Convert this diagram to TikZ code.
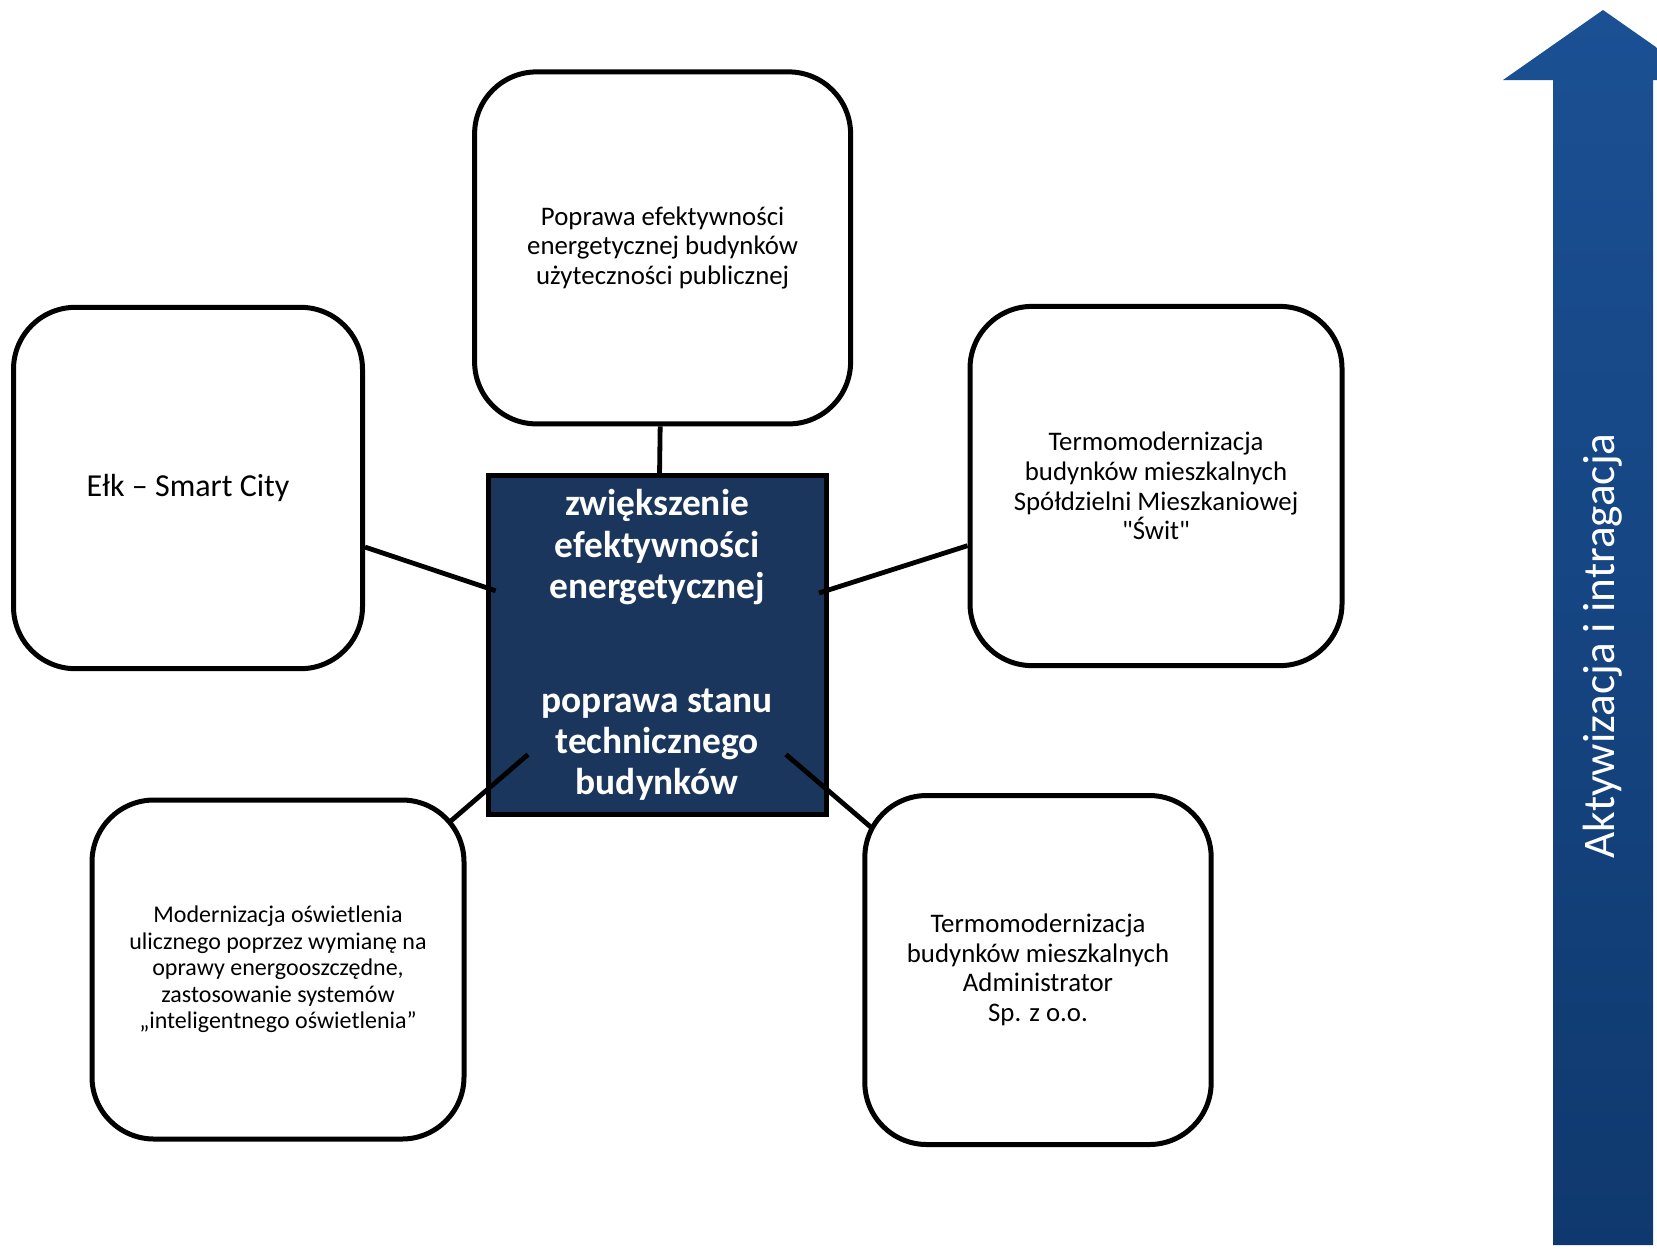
\documentclass[tikz,border=0pt]{standalone}
\usepackage{fontspec}
\setmainfont{Carlito}
\newfontfamily\qfont{Carlito}
\definecolor{navy}{RGB}{27,54,93}
\definecolor{arrtop}{RGB}{27,80,148}
\definecolor{arrbot}{RGB}{15,57,110}
\pgfdeclarelayer{bg}
\pgfdeclarelayer{mid}
\pgfsetlayers{bg,mid,main}
\begin{document}
\begin{tikzpicture}[x=0.5pt,y=0.5pt,
  box/.style={draw=black, line width=2.5pt, rounded corners=31pt, fill=white,
    align=center, inner sep=0pt, font=\fontsize{13.4}{14.8}\selectfont},
  hub/.style={draw=black, line width=2.5pt, fill=navy, text=white, align=center,
    inner sep=0pt, font=\fontsize{18.7}{20.6}\selectfont\bfseries},
  conn/.style={line width=2.4pt, draw=black}]
\useasboundingbox (0,0) rectangle (1657,-1248);
% outer boxes
\node[box, minimum width=188pt, minimum height=176pt] (top) at (662.6,-247.9)
  {Poprawa efektywności\\energetycznej budynków\\użyteczności publicznej};
\node[box, minimum width=174.5pt, minimum height=180.7pt, font=\fontsize{16}{19}\selectfont] (left) at (188,-488)
  {Ełk – Smart City};
\node[box, minimum width=186pt, minimum height=179.6pt] (right) at (1156,-486)
  {Termomodernizacja\\budynków mieszkalnych\\Spółdzielni Mieszkaniowej\\{\qfont"}Świt{\qfont"}};
\node[box, minimum width=186pt, minimum height=169.5pt, font=\fontsize{12}{13.2}\selectfont] (bl) at (278,-969.5)
  {Modernizacja oświetlenia\\ulicznego poprzez wymianę na\\oprawy energooszczędne,\\zastosowanie systemów\\„inteligentnego oświetlenia”};
\node[box, minimum width=173.2pt, minimum height=174.5pt] (br) at (1038,-970)
  {Termomodernizacja\\budynków mieszkalnych\\Administrator\\Sp. z o.o.};
% central box
\begin{pgfonlayer}{bg}
\node[hub, minimum width=169pt, minimum height=169.6pt] (hubnode) at (657.2,-645.2)
  {zwiększenie\\efektywności\\energetycznej\\[36.5pt]poprawa stanu\\technicznego\\budynków};
\end{pgfonlayer}
\coordinate (cl) at (495.6,-590.7);
\coordinate (cr) at (819,-593);
\coordinate (cbl) at (528,-754.5);
\coordinate (cbr) at (786,-754.5);
\begin{pgfonlayer}{mid}
\draw[conn] (top) -- (hubnode);
\draw[conn] (left) -- (cl);
\draw[conn] (right) -- (cr);
\draw[conn, shorten <=-12pt] (bl) -- (cbl);
\draw[conn, shorten <=-6pt] (br) -- (cbr);
\end{pgfonlayer}
% arrow
\shade[top color=arrtop, bottom color=arrbot]
  (1603,-10) -- (1503,-80) -- (1553,-80) -- (1553,-1245) -- (1653,-1245)
  -- (1653,-80) -- (1703,-80) -- cycle;
\node[text=white, rotate=90, font=\fontsize{22.6}{27}\selectfont] (arrlabel) at (1603,-646)
  {Aktywizacja i intragacja};
\end{tikzpicture}
\end{document}
